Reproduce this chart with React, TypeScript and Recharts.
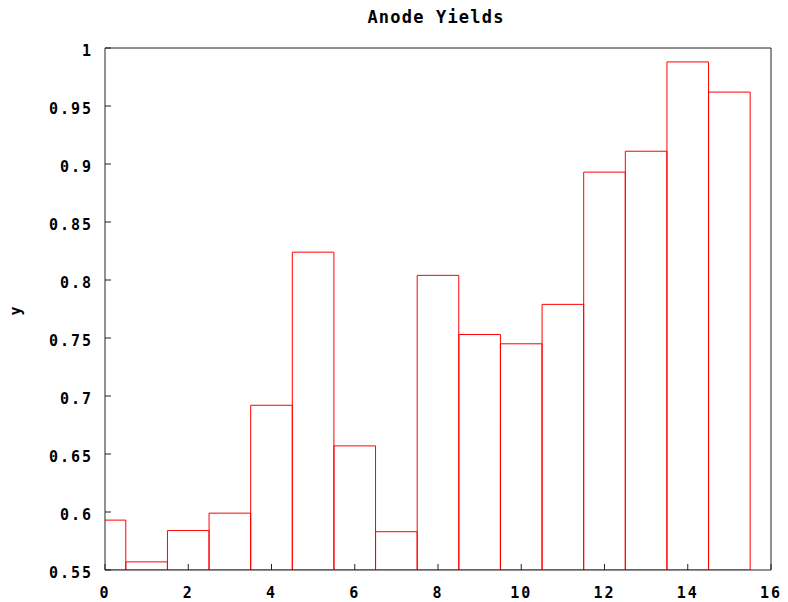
import { BarChart, Bar, XAxis, YAxis } from "recharts";

// sample index (x) and measured anode yield (y)
const positions = [0, 1, 2, 3, 4, 5, 6, 7, 8, 9, 10, 11, 12, 13, 14, 15];
const yields = [
  0.593, 0.557, 0.584, 0.599, 0.692, 0.824, 0.657, 0.583,
  0.804, 0.753, 0.745, 0.779, 0.893, 0.911, 0.988, 0.962,
];
const xTicks = [0, 2, 4, 6, 8, 10, 12, 14, 16];
const yTicks = [0.55, 0.6, 0.65, 0.7, 0.75, 0.8, 0.85, 0.9, 0.95, 1];

const data = positions.map((x, i) => ({ x, y: yields[i] }));

const FONT = "'DejaVu Sans Mono', 'Liberation Mono', monospace";
const tickStyle = {
  fill: "#000",
  fontFamily: FONT,
  fontWeight: "bold",
  fontSize: 15,
  letterSpacing: 2,
};
const border = { stroke: "#222", strokeWidth: 1 };

export default function App() {
  return (
    <div style={{ position: "absolute", left: 0, top: 0, width: 788, height: 602, background: "#fff" }}>
      <BarChart
        width={788}
        height={602}
        data={data}
        margin={{ top: 47, right: 16, left: 0, bottom: 0 }}
        barCategoryGap={0}
        barGap={0}
      >
        <XAxis
          dataKey="x"
          type="number"
          domain={[0, 16]}
          ticks={xTicks}
          allowDataOverflow
          height={32}
          tickSize={-6}
          tickMargin={23}
          axisLine={border}
          tickLine={border}
          tick={tickStyle}
        />
        <XAxis
          xAxisId="top"
          orientation="top"
          type="number"
          domain={[0, 16]}
          ticks={xTicks}
          allowDataOverflow
          height={1}
          tickSize={-6}
          axisLine={border}
          tickLine={border}
          tick={false}
        />
        <YAxis
          type="number"
          domain={[0.55, 1]}
          ticks={yTicks}
          allowDataOverflow
          width={105}
          tickSize={-6}
          tickMargin={18}
          axisLine={border}
          tickLine={border}
          tick={{ ...tickStyle, dy: 3 }}
          tickFormatter={(v: number) => String(v)}
        />
        <YAxis
          yAxisId="right"
          orientation="right"
          type="number"
          domain={[0.55, 1]}
          ticks={yTicks}
          allowDataOverflow
          width={1}
          tickSize={-6}
          axisLine={border}
          tickLine={border}
          tick={false}
        />
        <Bar
          dataKey="y"
          barSize={41.6}
          fill="none"
          stroke="#ff0000"
          strokeWidth={1}
          isAnimationActive={false}
        />
      </BarChart>
      <svg
        width={788}
        height={602}
        style={{ position: "absolute", left: 0, top: 0, pointerEvents: "none" }}
      >
        <text x={436} y={23} textAnchor="middle" fontFamily={FONT} fontWeight="bold" fontSize={17} letterSpacing={1.2} fill="#000">
          Anode Yields
        </text>
        <text
          x={21}
          y={311}
          textAnchor="middle"
          transform="rotate(-90, 21, 311)"
          fontFamily={FONT}
          fontWeight="bold"
          fontSize={15}
          fill="#000"
        >
          y
        </text>
      </svg>
    </div>
  );
}
